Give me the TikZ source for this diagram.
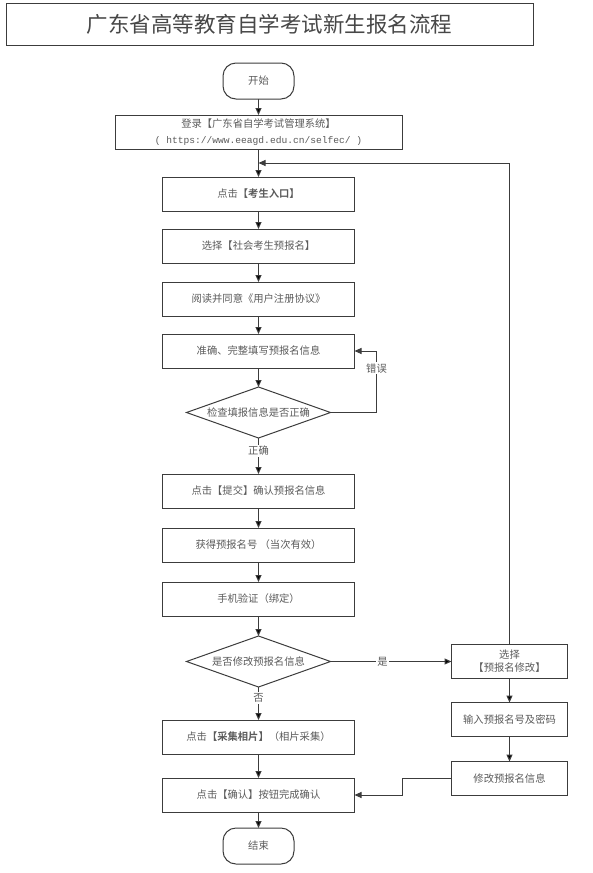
\documentclass[tikz,border=0pt]{standalone}
\usepackage{fontspec}
\setmainfont{Noto Sans CJK SC}[BoldFont={Noto Sans CJK SC Bold}]
\setmonofont{Liberation Mono}
\usepackage{xcolor}
\usetikzlibrary{arrows.meta, positioning, shapes.geometric}
\definecolor{linegray}{HTML}{3C3C3C}
\definecolor{textgray}{HTML}{5A5A5A}

\begin{document}
\begin{tikzpicture}[x = 1pt, y = -1pt,
    every node/.style = {font = \fontsize{10.3}{13}\selectfont, text = textgray, outer sep = 0pt},
    box/.style   = {draw = linegray, line width = 1pt, minimum width = 192pt,
                    minimum height = 34pt, inner sep = 0pt, align = center},
    side/.style  = {box, minimum width = 116pt},
    term/.style  = {draw = linegray, line width = 1pt, rounded corners = 13pt,
                    minimum width = 71pt, minimum height = 36pt, inner sep = 0pt},
    decide/.style = {draw = linegray, line width = 1pt, diamond, aspect = 2.8,
                    minimum width = 144pt, minimum height = 51pt, inner sep = 0pt},
    tag/.style   = {fill = white, inner sep = 1.5pt},
    flow/.style  = {draw = linegray, line width = 1pt, -{Triangle[length = 7pt, width = 6pt]}}]
    \useasboundingbox (0, 0) rectangle (593, 873);

    \node[draw = linegray, line width = 1pt, minimum width = 527pt, minimum height = 42pt,
          font = \fontsize{21.5}{26}\selectfont, text = black!72] (title) at (269.5, 24)
          {广东省高等教育自学考试新生报名流程};

    \node[term] (start) at (258.5, 81) {开始};
    \node[box, minimum width = 287pt, font = \fontsize{10.3}{16}\selectfont] (login) [below = 16pt of start]
          {登录【广东省自学考试管理系统】\\ {\ttfamily\fontsize{9.6}{16}\selectfont ( https://www.eeagd.edu.cn/selfec/ )}};
    \node[box] (entry)  [below = 28pt of login]  {点击\textbf{【考生入口】}};
    \node[box] (choose) [below = 18pt of entry]  {选择【社会考生预报名】};
    \node[box] (agree)  [below = 19pt of choose] {阅读并同意《用户注册协议》};
    \node[box] (info)   [below = 18pt of agree]  {准确、完整填写预报名信息};
    \node[decide] (check) [below = 19pt of info] {检查填报信息是否正确};
    \node[box] (submit) [below = 36pt of check]  {点击【提交】确认预报名信息};
    \node[box] (number) [below = 20pt of submit] {获得预报名号 （当次有效）};
    \node[box] (phone)  [below = 20pt of number] {手机验证（绑定）};
    \node[decide] (modq) [below = 20pt of phone] {是否修改预报名信息};
    \node[box] (photo)  [below = 33pt of modq]   {点击\textbf{【采集相片】}（相片采集）};
    \node[box] (confirm) [below = 24pt of photo] {点击【确认】按钮完成确认};
    \node[term] (stop)  [below = 16pt of confirm] {结束};

    \node[side] (pick)  [right = 121pt of modq]  {选择\\【预报名修改】};
    \node[side] (enter) [below = 24pt of pick]   {输入预报名号及密码};
    \node[side] (edit)  [below = 25pt of enter]  {修改预报名信息};

    \path (login) -- coordinate[midway] (join) (entry);

    \path[flow] (start)  edge (login)
                (login)  edge (entry)
                (entry)  edge (choose)
                (choose) edge (agree)
                (agree)  edge (info)
                (info)   edge (check)
                (check)  edge node[tag, pos = 0.36] {正确} (submit)
                (submit) edge (number)
                (number) edge (phone)
                (phone)  edge (modq)
                (modq)   edge node[tag, pos = 0.33] {否} (photo)
                (modq)   edge node[tag, pos = 0.43] {是} (pick)
                (photo)  edge (confirm)
                (confirm) edge (stop)
                (pick)   edge (enter)
                (enter)  edge (edit);

    % loops back
    \draw[flow] (check.east) -- ++(46, 0) |- node[tag, pos = 0.36] {错误} (info.east);
    \draw[flow] (pick) |- (join);
    \draw[flow] (edit.west) -- ++(-49, 0) |- (confirm.east);
\end{tikzpicture}
\end{document}
